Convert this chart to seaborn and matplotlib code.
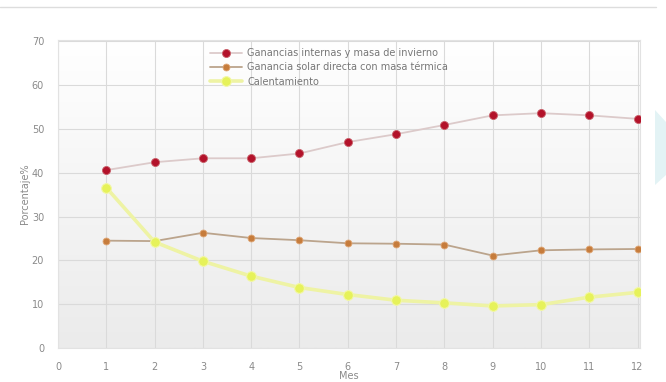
import numpy as np
import pandas as pd
import matplotlib
matplotlib.use("Agg")
import matplotlib.pyplot as plt
import seaborn as sns
from matplotlib.patches import Polygon
from matplotlib.lines import Line2D

# ---- data ----
months = [1, 2, 3, 4, 5, 6, 7, 8, 9, 10, 11, 12]
ganancias_internas = [40.6, 42.4, 43.3, 43.3, 44.4, 47.0, 48.8, 50.9, 53.1, 53.6, 53.1, 52.3]
ganancia_solar = [24.5, 24.4, 26.3, 25.1, 24.6, 23.9, 23.8, 23.6, 21.1, 22.3, 22.5, 22.6]
calentamiento = [36.6, 24.2, 19.8, 16.4, 13.8, 12.2, 10.9, 10.3, 9.6, 9.9, 11.6, 12.7]
series_names = ["Ganancias internas y masa de invierno",
                "Ganancia solar directa con masa térmica",
                "Calentamiento"]
x_ticks = list(range(0, 13))
y_ticks = list(range(0, 71, 10))
y_label = "Porcentaje%"
x_label = "Mes"

sns.set_theme(style="white")
plt.rcParams['font.family'] = ['DejaVu Sans']

fig = plt.figure(figsize=(6.66, 3.82), dpi=100)
fig.patch.set_facecolor("white")

# decorative card border and right chevron
fig.add_artist(Line2D([0, 0.985], [1 - 7/382, 1 - 7/382], transform=fig.transFigure,
                      color="#dddddd", lw=1.0))
fig.add_artist(Polygon([[655/666, 1 - 110/382], [666/666, 1 - 122/382],
                        [666/666, 1 - 175/382], [655/666, 1 - 185/382]],
                       closed=True, transform=fig.transFigure, facecolor="#e3f3f5",
                       edgecolor="none"))

ax = fig.add_axes([58/666, 1 - 348/382, 582/666, 308/382])

# gradient plot-area background (white at top, light grey at bottom)
grad = np.linspace(0.0, 1.0, 256).reshape(-1, 1)
cmap = matplotlib.colors.LinearSegmentedColormap.from_list("bg", ["#ffffff", "#ebebeb"])
ax.imshow(grad, extent=[0, 1, 0, 1], transform=ax.transAxes, cmap=cmap,
          aspect="auto", zorder=0, vmin=0, vmax=1)

df = pd.DataFrame({"mes": months, "a": ganancias_internas,
                   "b": ganancia_solar, "c": calentamiento})

sns.lineplot(data=df, x="mes", y="a", ax=ax, color="#dccaca", lw=1.3, zorder=3,
             marker="o", markersize=5.8, markerfacecolor="#b3122a",
             markeredgecolor="#c8606a", markeredgewidth=0.6, label=series_names[0])
sns.lineplot(data=df, x="mes", y="b", ax=ax, color="#bba48c", lw=1.3, zorder=3,
             marker="o", markersize=5.0, markerfacecolor="#c67c3c",
             markeredgecolor="#e0a878", markeredgewidth=0.6, label=series_names[1])
sns.lineplot(data=df, x="mes", y="c", ax=ax, color="#eef3a4", lw=2.6, zorder=3,
             marker="o", markersize=7.0, markerfacecolor="#e6f25a",
             markeredgecolor="#f2f7a8", markeredgewidth=0.8, label=series_names[2])

ax.set_xlim(0, 12.05)
ax.set_ylim(0, 70.3)
ax.set_xticks(x_ticks)
ax.set_yticks(y_ticks)
ax.grid(True, color="#dadada", lw=0.8, zorder=1)
ax.set_axisbelow(True)
for s in ax.spines.values():
    s.set_color("#e2e2e2")
    s.set_linewidth(0.8)
ax.tick_params(axis="both", length=0, labelsize=7, labelcolor="#8a8a8a")
ax.tick_params(axis="x", pad=10)
ax.tick_params(axis="y", pad=10)
ax.set_ylabel(y_label, fontsize=7, color="#8a8a8a", labelpad=1)
ax.set_xlabel(x_label, fontsize=7, color="#8a8a8a")
ax.xaxis.set_label_coords(0.5, -0.075)

leg = ax.legend(loc="upper left", bbox_to_anchor=(0.253, 0.99), frameon=False,
                fontsize=7, handlelength=3.3, handletextpad=0.5, labelspacing=0.45,
                borderpad=0)
for t in leg.get_texts():
    t.set_color("#777777")

fig.savefig("out.png", dpi=100)
